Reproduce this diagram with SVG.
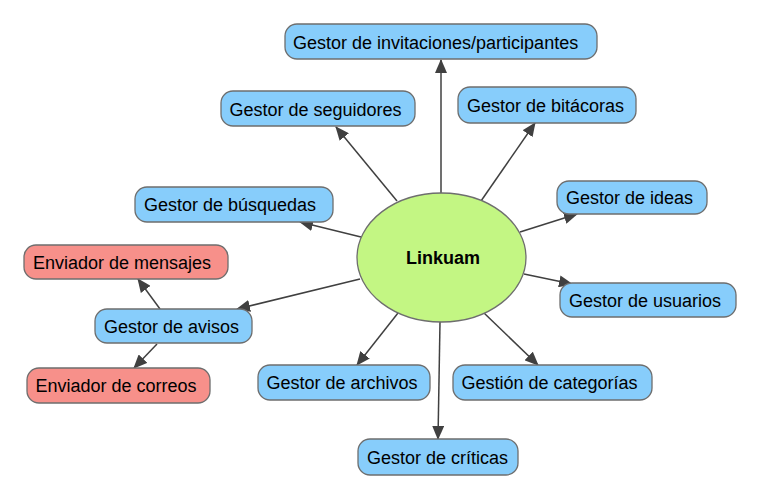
<svg xmlns="http://www.w3.org/2000/svg" width="761" height="500" viewBox="0 0 761 500">
<style>
.b{fill:#87cdfb;stroke:#6e6e6e;stroke-width:1.3}
.r{fill:#f7908a;stroke:#6e6e6e;stroke-width:1.3}
.g{fill:#c3f683;stroke:#6e6e6e;stroke-width:1.3}
text{font-family:"Liberation Sans",Arial,sans-serif;font-size:18px;fill:#000}
.c line{stroke:#404040;stroke-width:1.5;marker-end:url(#ah)}
</style>
<defs>
<marker id="ah" markerUnits="userSpaceOnUse" markerWidth="14" markerHeight="12" viewBox="0 0 14 12" refX="13" refY="6" orient="auto">
<path d="M0,0 L14,6 L0,12 Z" fill="#404040"/>
</marker>
</defs>
<g class="c">
<line x1="441" y1="193" x2="441" y2="60"/>
<line x1="397" y1="201" x2="336" y2="127"/>
<line x1="481" y1="201" x2="535" y2="123"/>
<line x1="361" y1="237" x2="300" y2="222"/>
<line x1="520" y1="232" x2="577" y2="214"/>
<line x1="524" y1="274" x2="572" y2="284"/>
<line x1="360" y1="279" x2="237" y2="309"/>
<line x1="160" y1="309" x2="138" y2="279"/>
<line x1="157" y1="344" x2="134" y2="368"/>
<line x1="398" y1="313" x2="357" y2="365"/>
<line x1="484" y1="313" x2="538" y2="365"/>
<line x1="440" y1="322" x2="438" y2="439"/>
</g>
<g id="linkuam"><ellipse class="g" cx="441.5" cy="257.5" rx="84.5" ry="64.5"/><text x="443" y="264" text-anchor="middle" font-weight="bold" font-size="17.5">Linkuam</text></g>
<g id="invitaciones"><rect class="b" x="285" y="24" width="312" height="35" rx="12"/><text x="293" y="48.5">Gestor de invitaciones/participantes</text></g>
<g id="seguidores"><rect class="b" x="221" y="91" width="194" height="35" rx="12"/><text x="229.5" y="115.5">Gestor de seguidores</text></g>
<g id="bitacoras"><rect class="b" x="458" y="87" width="178" height="36" rx="12"/><text x="467" y="111.5">Gestor de bitácoras</text></g>
<g id="busquedas"><rect class="b" x="135" y="187" width="198" height="35" rx="12"/><text x="144" y="211">Gestor de búsquedas</text></g>
<g id="ideas"><rect class="b" x="557" y="181" width="150" height="33" rx="12"/><text x="566" y="204">Gestor de ideas</text></g>
<g id="usuarios"><rect class="b" x="560" y="283" width="176" height="34" rx="12"/><text x="569" y="306.5">Gestor de usuarios</text></g>
<g id="mensajes"><rect class="r" x="24" y="245" width="204" height="34" rx="12"/><text x="33" y="268.5">Enviador de mensajes</text></g>
<g id="avisos"><rect class="b" x="95" y="309" width="157" height="34" rx="12"/><text x="104" y="332.5">Gestor de avisos</text></g>
<g id="correos"><rect class="r" x="27" y="368" width="183" height="35" rx="12"/><text x="35.5" y="392">Enviador de correos</text></g>
<g id="archivos"><rect class="b" x="258" y="365" width="172" height="35" rx="12"/><text x="266.5" y="389">Gestor de archivos</text></g>
<g id="categorias"><rect class="b" x="453" y="365" width="199" height="35" rx="12"/><text x="461.5" y="389">Gestión de categorías</text></g>
<g id="criticas"><rect class="b" x="358" y="439" width="160" height="36" rx="12"/><text x="367" y="463.5">Gestor de críticas</text></g>
</svg>
